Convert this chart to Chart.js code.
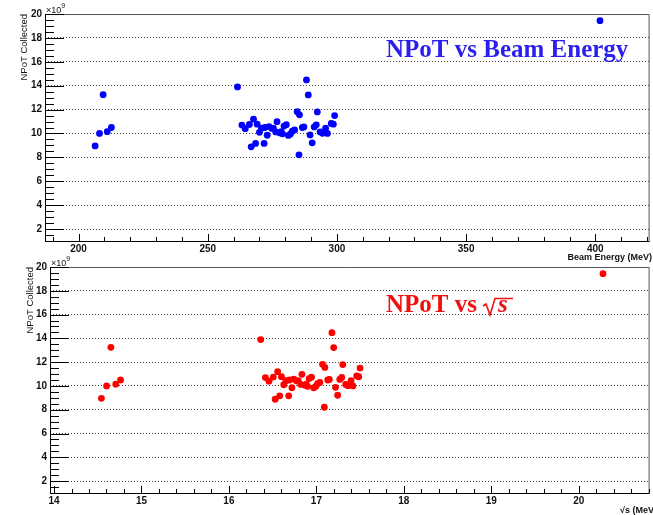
<!DOCTYPE html>
<html>
<head>
<meta charset="utf-8">
<script src="https://cdn.jsdelivr.net/npm/chart.js@4.4.1/dist/chart.umd.min.js"></script>
<style>
  body { margin: 0; background: #fff; width: 653px; height: 515px; position: relative; overflow: hidden; }
  canvas { position: absolute; left: 0; }
  #top { top: 0; }
  #bot { top: 250px; }
</style>
</head>
<body>
<canvas id="top" width="653" height="262"></canvas>
<canvas id="bot" width="653" height="265"></canvas>
<script>
// beam energy (MeV), sqrt(s) (MeV) and protons on target (x1e9) for each run
const beamEnergy = [206.4, 208.1, 209.5, 211.1, 212.7, 261.5, 263.2, 264.5, 266.1, 266.8,
  267.7, 268.5, 269.1, 270.0, 270.8, 271.8, 272.1, 273.0, 273.7, 274.8,
  275.4, 276.3, 276.8, 277.9, 278.4, 278.9, 279.5, 280.4, 281.2, 282.0,
  282.7, 283.6, 284.6, 285.5, 285.3, 286.6, 287.2, 288.2, 288.9, 289.6,
  290.4, 291.2, 292.0, 292.4, 293.5, 294.4, 295.6, 296.3, 297.8, 298.6,
  299.1, 401.8];
const sqrtS = [14.542, 14.601, 14.650, 14.706, 14.761, 16.364, 16.417, 16.458, 16.507, 16.529,
  16.557, 16.581, 16.600, 16.627, 16.652, 16.683, 16.692, 16.720, 16.741, 16.774,
  16.793, 16.820, 16.835, 16.869, 16.884, 16.899, 16.917, 16.944, 16.968, 16.992,
  17.013, 17.040, 17.070, 17.097, 17.091, 17.130, 17.148, 17.178, 17.198, 17.219,
  17.243, 17.267, 17.290, 17.302, 17.335, 17.361, 17.396, 17.417, 17.461, 17.484,
  17.499, 20.277];
const npot = [8.96, 10.0, 13.25, 10.15, 10.5, 13.9, 10.7, 10.4, 10.75, 8.88,
  11.2, 9.17, 10.78, 10.1, 10.44, 9.17, 10.5, 9.85, 10.58, 10.42,
  10.44, 10.13, 10.98, 10.05, 10.16, 9.97, 10.62, 10.74, 9.84, 9.96,
  10.19, 10.3, 11.82, 11.56, 8.21, 10.5, 10.55, 14.48, 13.23, 9.88,
  9.22, 10.55, 10.72, 11.8, 10.13, 10.02, 10.44, 10.0, 10.84, 10.78,
  11.5, 19.44];

const energyTicks = [200, 250, 300, 350, 400];
const sqrtSTicks = [14, 15, 16, 17, 18, 19, 20];
const npotTicks = [2, 4, 6, 8, 10, 12, 14, 16, 18, 20];

const sans = "'Liberation Sans', Arial, sans-serif";
const serif = "'Liberation Serif', 'Times New Roman', serif";

// ROOT-like frame: inward ticks, axis labels, in-pad title
const rootFrame = {
  id: 'rootFrame',
  afterDraw(chart, args, o) {
    const { ctx, chartArea: a, scales: { x, y } } = chart;
    ctx.save();
    ctx.lineWidth = 1;
    ctx.strokeStyle = '#555';
    ctx.beginPath();
    ctx.moveTo(a.left, a.top + 0.5);
    ctx.lineTo(a.right - 0.5, a.top + 0.5);
    ctx.lineTo(a.right - 0.5, a.bottom);
    ctx.stroke();
    ctx.strokeStyle = '#000';
    ctx.beginPath();
    ctx.moveTo(a.left + 0.5, a.top);
    ctx.lineTo(a.left + 0.5, a.bottom + 0.5);
    ctx.lineTo(a.right, a.bottom + 0.5);
    ctx.stroke();

    // y ticks: major every 2, minor every 0.5
    ctx.beginPath();
    for (let k = Math.ceil(y.min * 2); k <= y.max * 2; k++) {
      const py = Math.round(y.getPixelForValue(k / 2)) + 0.5;
      const len = k % 4 === 0 ? 19 : 9;
      ctx.moveTo(a.left, py);
      ctx.lineTo(a.left + len, py);
    }
    // x ticks
    const n0 = Math.ceil(x.min / o.minorStep - 1e-6), n1 = Math.floor(x.max / o.minorStep + 1e-6);
    for (let k = n0; k <= n1; k++) {
      const v = k * o.minorStep;
      const px = Math.round(x.getPixelForValue(v)) + 0.5;
      const major = Math.abs(v / o.majorStep - Math.round(v / o.majorStep)) < 1e-6;
      ctx.moveTo(px, a.bottom);
      ctx.lineTo(px, a.bottom - (major ? 7 : 4));
    }
    ctx.stroke();

    ctx.fillStyle = '#111';
    // x10^9 exponent
    ctx.font = '9px ' + sans;
    ctx.textAlign = 'left';
    ctx.textBaseline = 'alphabetic';
    ctx.fillText('\u00d710', a.left + 1, a.top - 1);
    const w = ctx.measureText('\u00d710').width;
    ctx.font = '7px ' + sans;
    ctx.fillText('9', a.left + 1 + w, a.top - 6);

    // y title, right aligned to the top
    ctx.save();
    ctx.translate(o.yTitleX, a.top);
    ctx.rotate(-Math.PI / 2);
    ctx.font = '9.5px ' + sans;
    ctx.textAlign = 'right';
    ctx.textBaseline = 'middle';
    ctx.fillText('NPoT Collected', 0, 0);
    ctx.restore();

    // x title
    ctx.font = 'bold 9px ' + sans;
    ctx.textAlign = 'right';
    ctx.textBaseline = 'alphabetic';
    ctx.fillText(o.xTitle, o.xTitleRight, o.xTitleBase);

    o.drawLabel(ctx);
    ctx.restore();
  }
};

function scatterChart(id, xs, cfg) {
  return new Chart(document.getElementById(id), {
    type: 'scatter',
    data: {
      datasets: [{
        data: xs.map((v, i) => ({ x: v, y: npot[i] })),
        backgroundColor: cfg.color,
        borderWidth: 0,
        pointRadius: 3.4,
        pointHoverRadius: 3.4
      }]
    },
    options: {
      responsive: false,
      animation: false,
      layout: { padding: { top: cfg.top, right: 1, left: 0, bottom: 0 } },
      scales: {
        x: {
          type: 'linear',
          min: cfg.xMin,
          max: cfg.xMax,
          afterBuildTicks: s => { s.ticks = cfg.xTicks.map(v => ({ value: v })); },
          afterFit: s => { s.height = cfg.xHeight; },
          grid: { display: false, drawTicks: false },
          border: { display: false },
          ticks: { padding: 2, color: '#111', font: { family: sans, size: 10, weight: 'bold' }, maxRotation: 0 }
        },
        y: {
          min: 1,
          max: 20,
          afterBuildTicks: s => { s.ticks = npotTicks.map(v => ({ value: v })); },
          afterFit: s => { s.width = cfg.yWidth; },
          grid: { color: '#444', lineWidth: 1, drawTicks: false },
          border: { display: false, dash: [1, 2] },
          ticks: { padding: 3, color: '#111', font: { family: sans, size: 10, weight: 'bold' } }
        }
      },
      plugins: {
        legend: { display: false },
        tooltip: { enabled: false },
        rootFrame: cfg.frame
      }
    },
    plugins: [rootFrame]
  });
}

let titleSize = 25;

scatterChart('top', beamEnergy, {
  color: '#0000ff',
  top: 14, xHeight: 21, yWidth: 45,
  xMin: 187, xMax: 421, xTicks: energyTicks,
  frame: {
    minorStep: 10, majorStep: 50,
    yTitleX: 24,
    xTitle: 'Beam Energy (MeV)', xTitleRight: 652, xTitleBase: 260,
    drawLabel(ctx) {
      ctx.font = 'bold 25px ' + serif;
      const m = ctx.measureText('NPoT vs Beam Energy').width;
      titleSize = 25 * 242 / m;
      ctx.font = 'bold ' + titleSize.toFixed(1) + 'px ' + serif;
      ctx.fillStyle = '#2a1ff0';
      ctx.textAlign = 'left';
      ctx.textBaseline = 'alphabetic';
      ctx.fillText('NPoT vs Beam Energy', 386, 57);
    }
  }
});

scatterChart('bot', sqrtS, {
  color: '#ff0000',
  top: 17, xHeight: 22, yWidth: 50,
  xMin: 13.954, xMax: 20.81, xTicks: sqrtSTicks,
  frame: {
    minorStep: 0.2, majorStep: 1,
    yTitleX: 30,
    xTitle: '\u221as (MeV)', xTitleRight: 657, xTitleBase: 263,
    drawLabel(ctx) {
      ctx.font = 'bold ' + titleSize.toFixed(1) + 'px ' + serif;
      ctx.fillStyle = '#ee1111';
      ctx.strokeStyle = '#ee1111';
      ctx.textAlign = 'left';
      ctx.textBaseline = 'alphabetic';
      ctx.fillText('NPoT vs', 386, 62);
      // radical sign
      ctx.lineWidth = 1.6;
      ctx.beginPath();
      ctx.moveTo(483, 56);
      ctx.lineTo(486, 54);
      ctx.lineTo(490, 65);
      ctx.lineTo(495, 48.5);
      ctx.lineTo(513, 48.5);
      ctx.stroke();
      ctx.font = 'italic bold ' + titleSize.toFixed(1) + 'px ' + serif;
      ctx.fillText('s', 498, 62);
    }
  }
});
</script>
</body>
</html>
